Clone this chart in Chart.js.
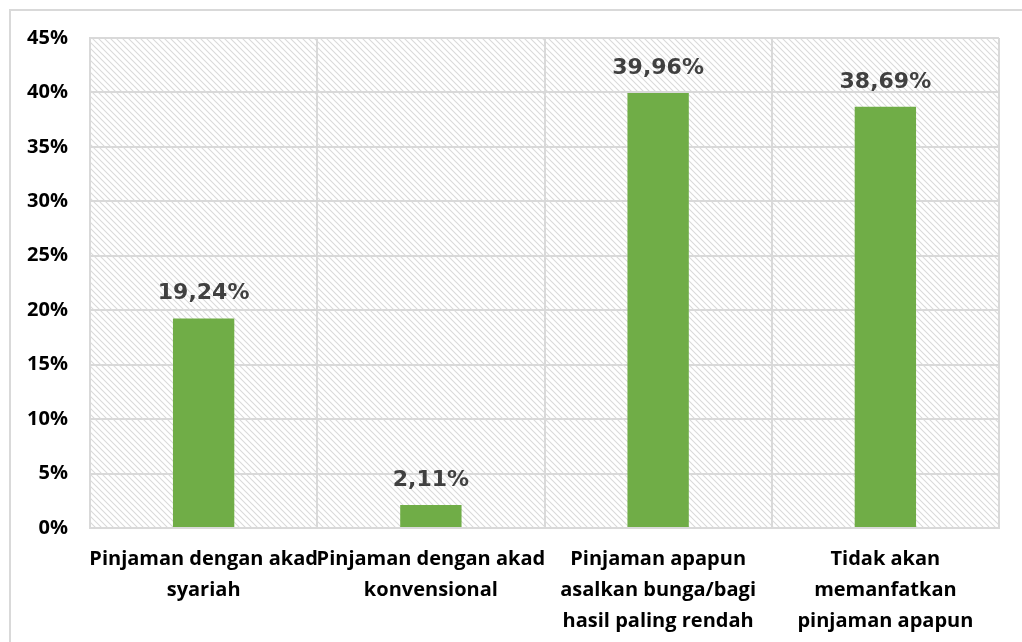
<!DOCTYPE html>
<html>
<head>
<meta charset="utf-8">
<script src="https://cdn.jsdelivr.net/npm/chart.js@4"></script>
<style>
  html, body { margin: 0; padding: 0; background: #fff; }
  #wrap { position: absolute; left: 9px; top: 9px; width: 1020px; height: 640px;
          border-left: 2px solid #d9d9d9; border-top: 2px solid #d9d9d9; box-sizing: border-box; }
  #chart { position: absolute; left: 0; top: 0; }
</style>
</head>
<body>
<div id="wrap"></div>
<canvas id="chart" width="1022" height="642"></canvas>
<script>
// kategori pilihan pinjaman (dipecah per baris seperti di sumbu)
const categories = [
  ["Pinjaman dengan akad", "syariah"],
  ["Pinjaman dengan akad", "konvensional"],
  ["Pinjaman apapun", "asalkan bunga/bagi", "hasil paling rendah"],
  ["Tidak akan", "memanfatkan", "pinjaman apapun"]
];
const percentages = [19.24, 2.11, 39.96, 38.69];
const yMax = 45;
const yStep = 5;

const labelFont = "'Open Sans'";

// pola garis miring di area plot
function makeHatch(ctx) {
  const c = document.createElement("canvas");
  c.width = 6; c.height = 6;
  const p = c.getContext("2d");
  p.strokeStyle = "#dadada";
  p.lineWidth = 1.1;
  p.beginPath();
  p.moveTo(0, 0); p.lineTo(6, 6);
  p.moveTo(-3, 3); p.lineTo(3, 9);
  p.moveTo(3, -3); p.lineTo(9, 3);
  p.stroke();
  return ctx.createPattern(c, "repeat");
}

const hatchBackground = {
  id: "hatchBackground",
  beforeDraw(chart) {
    const { ctx, chartArea: a } = chart;
    ctx.save();
    ctx.fillStyle = makeHatch(ctx);
    ctx.fillRect(a.left, a.top, a.right - a.left, a.bottom - a.top);
    ctx.restore();
  }
};

// label nilai di atas batang, format koma desimal
const valueLabels = {
  id: "valueLabels",
  afterDatasetsDraw(chart) {
    const { ctx } = chart;
    const meta = chart.getDatasetMeta(0);
    ctx.save();
    ctx.font = "bold 22px 'DejaVu Sans'";
    ctx.fillStyle = "#404040";
    ctx.textAlign = "center";
    ctx.textBaseline = "alphabetic";
    meta.data.forEach((bar, i) => {
      const txt = percentages[i].toFixed(2).replace(".", ",") + "%";
      ctx.fillText(txt, bar.x, bar.y - 19);
    });
    ctx.restore();
  }
};

new Chart(document.getElementById("chart"), {
  type: "bar",
  data: {
    labels: categories,
    datasets: [{
      data: percentages,
      backgroundColor: "#70ad47",
      barPercentage: 0.54,
      categoryPercentage: 0.5
    }]
  },
  options: {
    responsive: false,
    animation: false,
    layout: { padding: { left: 10, top: 38, right: 23, bottom: 0 } },
    plugins: { legend: { display: false }, tooltip: { enabled: false } },
    scales: {
      x: {
        afterFit(s) { s.height = 114; },
        grid: { color: "#d9d9d9", lineWidth: 2, drawTicks: false, offset: true },
        border: { color: "#d9d9d9", width: 2 },
        ticks: {
          color: "#000",
          padding: 16,
          maxRotation: 0,
          autoSkip: false,
          font: { family: labelFont, weight: "bold", size: 20, lineHeight: 1.55 }
        }
      },
      y: {
        min: 0,
        max: yMax,
        afterFit(s) { s.width = 80; },
        grid: { color: "#d9d9d9", lineWidth: 2, drawTicks: false },
        border: { color: "#d9d9d9", width: 2 },
        ticks: {
          stepSize: yStep,
          color: "#000",
          padding: 22,
          font: { family: labelFont, weight: "bold", size: 20 },
          callback: v => v + "%"
        }
      }
    }
  },
  plugins: [hatchBackground, valueLabels]
});
</script>
</body>
</html>
